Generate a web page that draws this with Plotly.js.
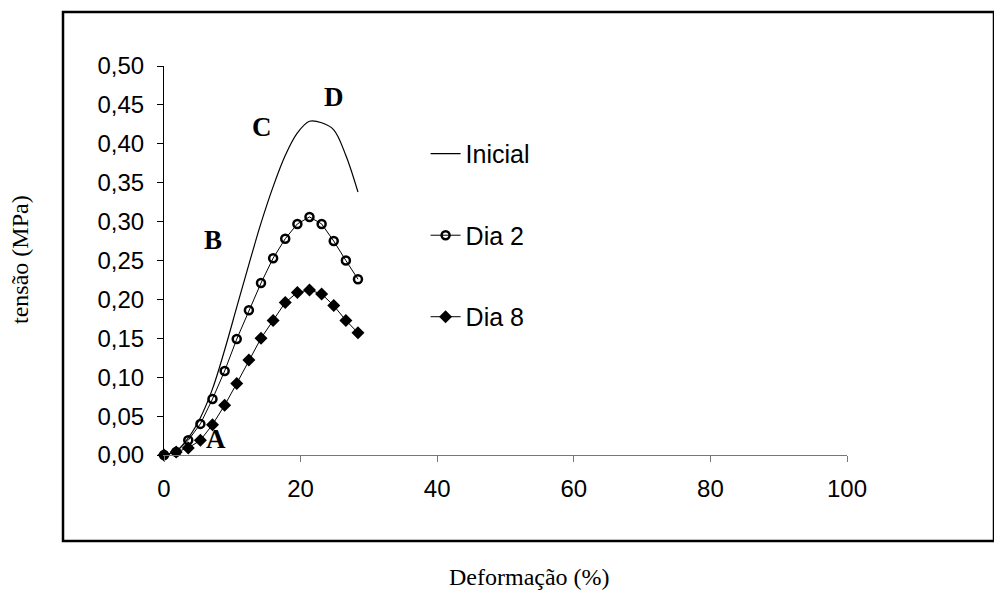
<!DOCTYPE html>
<html>
<head>
<meta charset="utf-8">
<script src="https://cdn.plot.ly/plotly-3.0.1.min.js"></script>
<style>html,body{margin:0;padding:0;background:#fff;}#chart{width:994px;height:590px;}</style>
</head>
<body>
<div id="chart"></div>
<script>
// Deformação (%) values
var deformacao = [0, 1.78, 3.55, 5.33, 7.1, 8.88, 10.65, 12.43, 14.2, 15.98, 17.75, 19.53, 21.3, 23.08, 24.85, 26.63, 28.4];
// tensão (MPa)
var inicial = [0, 0.005, 0.022, 0.048, 0.085, 0.135, 0.19, 0.245, 0.298, 0.345, 0.385, 0.414, 0.429, 0.427, 0.418, 0.385, 0.338];
var dia2 = [0, 0.004, 0.019, 0.040, 0.072, 0.108, 0.149, 0.186, 0.221, 0.253, 0.278, 0.297, 0.306, 0.297, 0.275, 0.250, 0.226];
var dia8 = [0, 0.004, 0.009, 0.019, 0.039, 0.064, 0.092, 0.122, 0.150, 0.173, 0.196, 0.209, 0.212, 0.207, 0.192, 0.173, 0.157];
var seriesNames = ['Inicial', 'Dia 2', 'Dia 8'];
var xTicks = [0, 20, 40, 60, 80, 100];
var yTicks = [0, 0.05, 0.10, 0.15, 0.20, 0.25, 0.30, 0.35, 0.40, 0.45, 0.50];
var pointLabels = ['A', 'B', 'C', 'D'];
var pointLabelX = [7.6, 7.2, 14.35, 24.9];
var pointLabelY = [0.021, 0.276, 0.422, 0.460];

var serif = 'Liberation Serif, Times New Roman, serif';
var sans = 'Liberation Sans, Arial, sans-serif';

var traces = [
  {x: deformacao, y: inicial, name: seriesNames[0], mode: 'lines', legendgroup: 'a', cliponaxis: false,
   line: {color: '#000', width: 1.2, shape: 'spline'}},
  {x: deformacao, y: dia2, name: seriesNames[1], mode: 'lines+markers', legendgroup: 'b', cliponaxis: false,
   line: {color: '#000', width: 1}, marker: {symbol: 'circle-open', size: 8, color: '#000', line: {width: 2.5, color: '#000'}}},
  {x: deformacao, y: dia8, name: seriesNames[2], mode: 'lines+markers', legendgroup: 'c', cliponaxis: false,
   line: {color: '#000', width: 1}, marker: {symbol: 'diamond', size: 10, color: '#000'}}
];

var annotations = pointLabels.map(function(t, i) {
  return {x: pointLabelX[i], y: pointLabelY[i], xref: 'x', yref: 'y', text: '<b>' + t + '</b>', showarrow: false,
    font: {family: serif, size: 27, color: '#000'}};
});
annotations.push({x: (529 - 164) / 683, y: (455 - 577) / 389, xref: 'paper', yref: 'paper', text: 'Deformação (%)', showarrow: false,
  xanchor: 'center', yanchor: 'middle', font: {family: serif, size: 24, color: '#000'}});
annotations.push({x: (20 - 164) / 683, y: (455 - 260) / 389, xref: 'paper', yref: 'paper', text: 'tensão (MPa)', showarrow: false,
  textangle: -90, xanchor: 'center', yanchor: 'middle', font: {family: serif, size: 24, color: '#000'}});

var layout = {
  width: 994, height: 590,
  margin: {l: 164, r: 147, t: 66, b: 135},
  paper_bgcolor: '#fff', plot_bgcolor: '#fff',
  separators: ',.',
  showlegend: true,
  legend: {x: 0.383, y: 0.833, xanchor: 'left', yanchor: 'top', tracegroupgap: 46,
    font: {family: sans, size: 25, color: '#000'}, bgcolor: 'rgba(0,0,0,0)'},
  xaxis: {range: [0, 100], tickvals: xTicks, ticks: 'outside', ticklen: 6, tickcolor: '#777', showline: true,
    linecolor: '#777', linewidth: 1, showgrid: false, zeroline: false, ticklabelstandoff: 6,
    tickfont: {family: sans, size: 24, color: '#000'}},
  yaxis: {range: [0, 0.5], tickvals: yTicks, tickformat: '.2f', ticks: 'outside', ticklen: 6, tickcolor: '#000', showline: true,
    linecolor: '#000', linewidth: 1, showgrid: false, zeroline: false, ticklabelstandoff: 8,
    tickfont: {family: sans, size: 24, color: '#000'}},
  annotations: annotations,
  shapes: [{type: 'rect', xref: 'paper', yref: 'paper', x0: (63 - 164) / 683, x1: (994 - 164) / 683,
    y0: (455 - 541) / 389, y1: (455 - 12) / 389, line: {color: '#000', width: 2.5}}]
};

Plotly.newPlot('chart', traces, layout, {displayModeBar: false, staticPlot: true});
</script>
</body>
</html>
